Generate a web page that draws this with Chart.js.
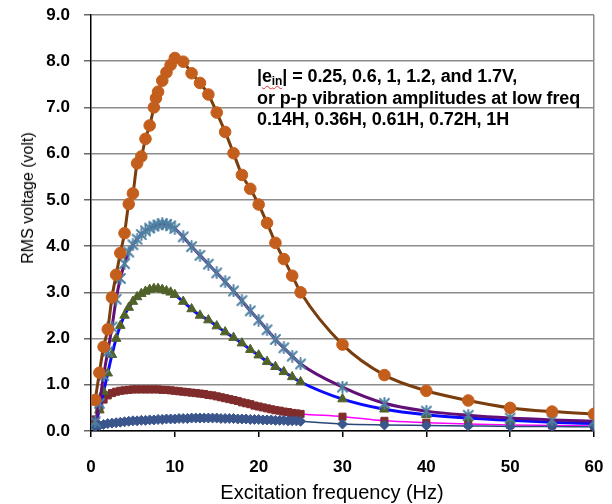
<!DOCTYPE html>
<html>
<head>
<meta charset="utf-8">
<script src="https://cdn.jsdelivr.net/npm/chart.js@4/dist/chart.umd.min.js"></script>
<style>
  html, body { margin: 0; padding: 0; background: #fff; }
  #wrap { position: relative; width: 612px; height: 504px; overflow: hidden; }
  canvas { position: absolute; left: 0; top: 0; }
  .ann { position: absolute; left: 257px; top: 66px; font-family: "Liberation Sans", Arial, sans-serif;
         font-weight: bold; font-size: 18px; line-height: 21.5px; color: #000; white-space: nowrap; letter-spacing: -0.1px; }
  .ann sub { font-size: 12px; vertical-align: -3px; line-height: 0; }
  .wavy { text-decoration: underline wavy #e03030; text-decoration-thickness: 1px; text-underline-offset: 3px; }
  .ytitle { position: absolute; left: 28px; top: 198px; transform: translate(-50%, -50%) rotate(-90deg);
            font-family: "Liberation Sans", Arial, sans-serif; font-size: 16px; color: #000; white-space: nowrap; }
  .xtitle { position: absolute; left: 332px; top: 492px; transform: translate(-50%, -50%);
            font-family: "Liberation Sans", Arial, sans-serif; font-size: 20px; color: #000; white-space: nowrap; }
</style>
</head>
<body>
<div id="wrap">
  <canvas id="c" width="612" height="504"></canvas>
  <div class="ann">|<span class="wavy">e<sub>in</sub></span>| = 0.25, 0.6, 1, 1.2, and 1.7V,<br>or p-p vibration amplitudes at low freq<br>0.14H, 0.36H, 0.61H, 0.72H, 1H</div>
  <div class="ytitle">RMS voltage (volt)</div>
  <div class="xtitle">Excitation frequency (Hz)</div>
</div>
<script>
// ---- Data ----
const xTicks = [0, 10, 20, 30, 40, 50, 60];
const yTicks = [0, 1, 2, 3, 4, 5, 6, 7, 8, 9];

// 1.7 V (1H) - circles
const freq17 = [0.5,1,1.5,2,2.5,3,3.5,4,4.5,5,5.5,6,6.5,7,7.5,7.75,8,8.5,9,9.5,10,
                11,12,13,14,15,16,17,18,19,20,21,22,23,24,25,
                30,35,40,45,50,55,60];
const volt17 = [0.67,1.26,1.82,2.2,2.89,3.38,3.85,4.28,4.91,5.14,5.79,5.94,6.32,6.61,7.0,7.2,7.34,7.58,7.76,7.92,8.07,
                7.99,7.74,7.53,7.28,6.89,6.47,6.01,5.54,5.24,4.9,4.5,4.07,3.72,3.36,3.0,
                1.87,1.21,0.87,0.66,0.5,0.42,0.37];

// 1.2 V (0.72H) - stars, and 1 V (0.61H) - triangles
const freqMid = [0.5,1,1.5,2,2.5,3,3.5,4,4.5,5,5.5,6,6.5,7,7.5,8,8.5,9,9.5,10,
                 11,12,13,14,15,16,17,18,19,20,21,22,23,24,25,
                 30,35,40,45,50,55,60];
const volt12 = [0.2,0.6,1.2,1.72,2.25,2.85,3.3,3.62,3.87,4.03,4.15,4.25,4.33,4.39,4.43,4.46,4.48,4.47,4.44,4.38,
                4.2,3.99,3.8,3.61,3.42,3.23,3.03,2.82,2.6,2.4,2.19,1.98,1.8,1.62,1.45,
                0.95,0.6,0.43,0.34,0.28,0.24,0.21];
const volt10 = [0.15,0.45,0.85,1.25,1.65,2.0,2.28,2.5,2.67,2.8,2.9,2.97,3.02,3.06,3.08,3.08,3.06,3.03,3.0,2.95,
                2.8,2.64,2.5,2.4,2.27,2.14,2.02,1.9,1.76,1.64,1.5,1.39,1.28,1.17,1.06,
                0.69,0.47,0.35,0.28,0.23,0.19,0.16];

// 0.6 V (0.36H) - squares, and 0.25 V (0.14H) - diamonds
const freqLow = [0.5,1,1.5,2,2.5,3,3.5,4,4.5,5,
                 5.5,6,6.5,7,7.5,8,8.5,9,9.5,10,
                 10.5,11,11.5,12,12.5,13,13.5,14,14.5,15,
                 15.5,16,16.5,17,17.5,18,18.5,19,19.5,20,
                 20.5,21,21.5,22,22.5,23,23.5,24,24.5,25,
                 30,35,40,45,50,55,60];
const volt06 = [0.25,0.5,0.68,0.77,0.82,0.85,0.87,0.88,0.89,0.9,
                0.9,0.9,0.9,0.9,0.9,0.9,0.89,0.89,0.88,0.87,
                0.86,0.85,0.84,0.83,0.82,0.81,0.8,0.78,0.77,0.75,
                0.73,0.71,0.69,0.67,0.65,0.62,0.6,0.58,0.55,0.53,
                0.51,0.49,0.47,0.45,0.44,0.42,0.41,0.39,0.38,0.37,
                0.31,0.22,0.18,0.15,0.13,0.12,0.11];
const volt025 = [0.09,0.12,0.14,0.16,0.17,0.18,0.19,0.2,0.21,0.22,
                 0.22,0.23,0.23,0.24,0.24,0.25,0.25,0.26,0.26,0.26,
                 0.27,0.27,0.27,0.28,0.28,0.28,0.28,0.28,0.28,0.28,
                 0.27,0.27,0.27,0.27,0.26,0.26,0.26,0.25,0.25,0.25,
                 0.24,0.24,0.24,0.23,0.23,0.23,0.22,0.22,0.22,0.21,
                 0.15,0.13,0.12,0.11,0.1,0.1,0.09];

function pts(xs, ys) { return xs.map((x, i) => ({ x: x, y: ys[i] })); }

// Excel-style "star" marker: an X with a vertical bar
const starMarker = (function () {
  const c = document.createElement('canvas');
  c.width = 13; c.height = 13;
  const g = c.getContext('2d');
  g.strokeStyle = 'rgb(78,128,162)';
  g.lineWidth = 2;
  g.lineCap = 'round';
  g.beginPath();
  g.moveTo(2, 2); g.lineTo(11, 11);
  g.moveTo(11, 2); g.lineTo(2, 11);
  g.moveTo(6.5, 1); g.lineTo(6.5, 12);
  g.stroke();
  return c;
})();

const FONT = '"Liberation Sans", Arial, sans-serif';

new Chart(document.getElementById('c'), {
  type: 'line',
  data: {
    datasets: [
      { data: pts(freq17, volt17), borderColor: 'rgb(122,62,14)', borderWidth: 3,
        pointStyle: 'circle', pointRadius: 5.8, pointBackgroundColor: 'rgb(196,94,28)',
        pointBorderColor: 'rgb(196,94,28)', pointBorderWidth: 1 },
      { data: pts(freqMid, volt12), borderColor: 'rgb(98,16,120)', borderWidth: 3,
        pointStyle: starMarker, pointRadius: 6 },
      { data: pts(freqLow, volt025), borderColor: 'rgb(40,70,120)', borderWidth: 1.5,
        pointStyle: 'rectRot', pointRadius: 5, pointBackgroundColor: 'rgb(58,86,140)',
        pointBorderColor: 'rgb(58,86,140)', pointBorderWidth: 1 },
      { data: pts(freqMid, volt10), borderColor: 'rgb(10,10,255)', borderWidth: 3,
        pointStyle: 'triangle', pointRadius: 5.5, pointBackgroundColor: 'rgb(80,98,42)',
        pointBorderColor: 'rgb(80,98,42)', pointBorderWidth: 1 },
      { data: pts(freqLow, volt06), borderColor: 'rgb(255,0,255)', borderWidth: 1.5,
        pointStyle: 'rect', pointRadius: 5, pointBackgroundColor: 'rgb(128,44,44)',
        pointBorderColor: 'rgb(128,44,44)', pointBorderWidth: 1 }
    ]
  },
  options: {
    responsive: false,
    animation: false,
    layout: { padding: { left: 0, right: 18, top: 15, bottom: 0 } },
    elements: { line: { cubicInterpolationMode: 'monotone', fill: false } },
    plugins: { legend: { display: false }, tooltip: { enabled: false }, title: { display: false } },
    scales: {
      x: {
        type: 'linear', min: 0, max: 60,
        afterFit: s => { s.height = 73; s.paddingLeft = 0; s.paddingRight = 0; },
        afterBuildTicks: s => { s.ticks = xTicks.map(v => ({ value: v })); },
        border: { display: true, color: '#000', width: 1.5 },
        grid: {
          drawOnChartArea: true, drawTicks: true, tickLength: 6, tickColor: '#000', lineWidth: 1.5,
          color: c => (c.tick && c.tick.value === 60) ? '#8c8c8c' : 'rgba(0,0,0,0)'
        },
        ticks: { padding: 20, color: '#000', font: { family: FONT, size: 17, weight: 'bold' },
                 maxRotation: 0, callback: v => String(v) }
      },
      y: {
        type: 'linear', min: 0, max: 9,
        afterFit: s => { s.width = 91; s.paddingTop = 0; s.paddingBottom = 0; },
        afterBuildTicks: s => { s.ticks = yTicks.map(v => ({ value: v })); },
        border: { display: true, color: '#000', width: 1.5 },
        grid: { color: '#8c8c8c', lineWidth: 1.5, drawTicks: true, tickLength: 7, tickColor: '#666' },
        ticks: { padding: 14, color: '#000', font: { family: FONT, size: 17, weight: 'bold' },
                 callback: v => Number(v).toFixed(1) }
      }
    }
  }
});
</script>
</body>
</html>
